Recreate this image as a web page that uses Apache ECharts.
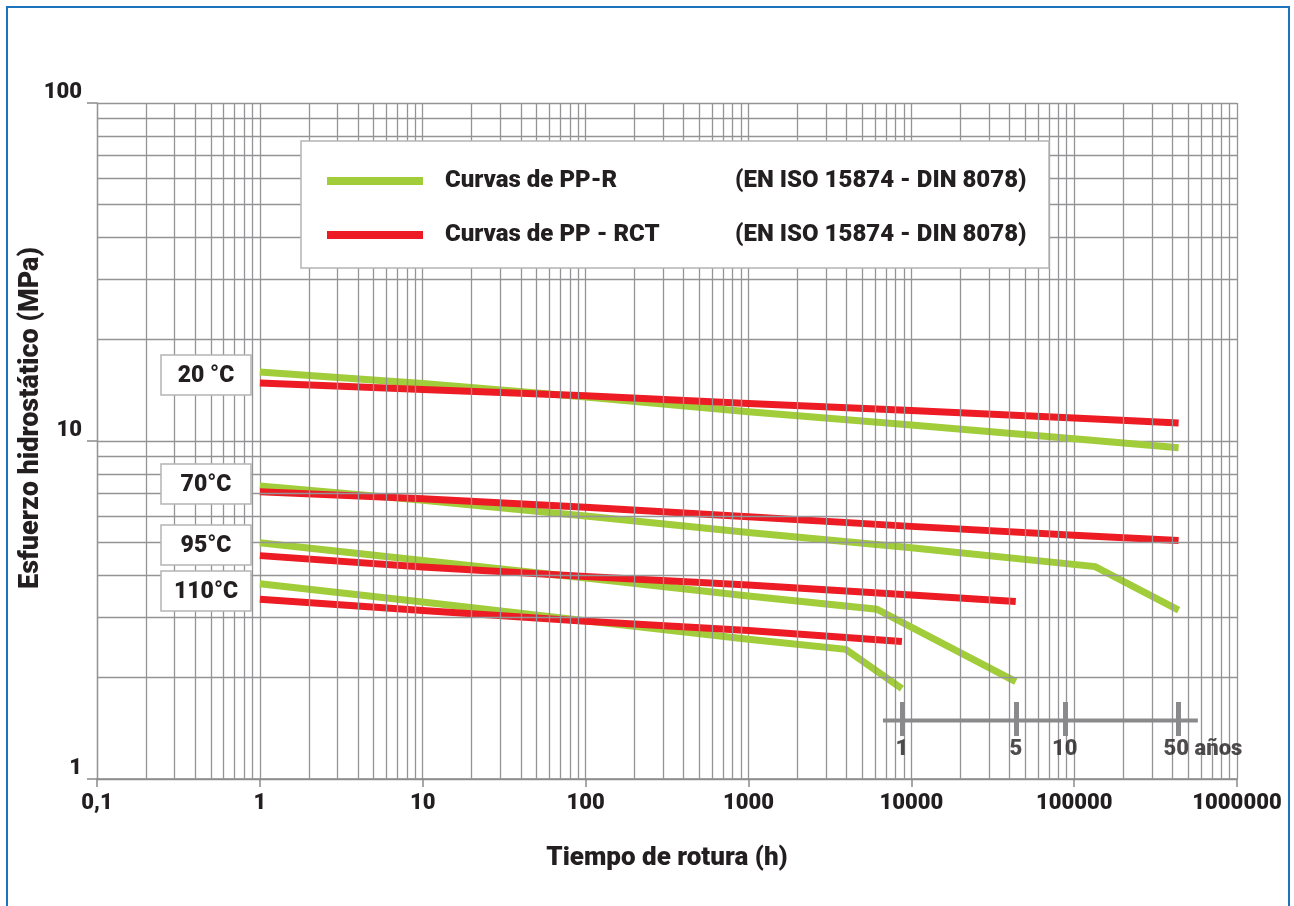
<!DOCTYPE html>
<html>
<head>
<meta charset="utf-8">
<script src="https://cdn.jsdelivr.net/npm/echarts@6/dist/echarts.min.js"></script>
<style>html,body{margin:0;padding:0;background:#fff;}#c{width:1294px;height:906px;}</style>
</head>
<body>
<div id="c"></div>
<script>
// ---- data (hours, MPa) ----
const xTickLabels = ['0,1', '1', '10', '100', '1000', '10000', '100000', '1000000'];
const yTickLabels = ['1', '10', '100'];
const tempLabels = ['20 °C', '70°C', '95°C', '110°C'];

const ppr20  = [[1, 16.0], [10, 14.8], [100, 13.5], [1000, 12.2], [10000, 11.15], [100000, 10.15], [438000, 9.55]];
const ppr70  = [[1, 7.36], [10, 6.68], [100, 6.0], [1000, 5.36], [10000, 4.83], [134600, 4.25], [438000, 3.16]];
const ppr95  = [[1, 5.0], [10, 4.43], [100, 3.93], [1000, 3.48], [6140, 3.18], [43800, 1.94]];
const ppr110 = [[1, 3.78], [10, 3.34], [100, 2.94], [1000, 2.59], [3960, 2.42], [8760, 1.85]];

const rct20  = [[1, 14.85], [10, 14.2], [100, 13.6], [1000, 12.9], [10000, 12.3], [100000, 11.7], [438000, 11.3]];
const rct70  = [[1, 7.08], [10, 6.75], [100, 6.37], [1000, 5.97], [10000, 5.59], [100000, 5.26], [438000, 5.08]];
const rct95  = [[1, 4.58], [10, 4.24], [100, 3.97], [1000, 3.75], [10000, 3.5], [43800, 3.35]];
const rct110 = [[1, 3.40], [10, 3.15], [100, 2.93], [1000, 2.75], [8760, 2.55]];

const yearMarks = [1, 5, 10, 50];
const yearLabels = ['1', '5', '10', '50 años'];
const HOURS_PER_YEAR = 8760;

const legendNames = ['Curvas de PP-R', 'Curvas de PP - RCT'];
const legendNorm = '(EN ISO 15874 - DIN 8078)';

// ---- styles ----
const GREEN = '#a2cd3a';
const RED = '#ed1c24';
const GRID = '#949496';
const AXIS = '#8a8a8c';
const TEXT = '#231f20';
const FONT = 'Roboto, sans-serif';
const W = 900;

// minor gridline values
const xMinor = [];
for (let e = -1; e <= 5; e++) for (let k = 2; k <= 9; k++) xMinor.push(+(k * Math.pow(10, e)).toPrecision(3));
const yMinor = [];
for (let e = 0; e <= 1; e++) for (let k = 2; k <= 9; k++) yMinor.push(k * Math.pow(10, e));

function curve(name, data, color, z) {
  return {
    type: 'line', name: name, data: data, symbol: 'none', z: z, silent: true,
    lineStyle: { color: color, width: 7, cap: 'butt', join: 'miter' }
  };
}

const series = [
  {
    type: 'line', data: [], symbol: 'none', silent: true, z: 1,
    markLine: {
      silent: true, symbol: 'none', animation: false,
      label: { show: false },
      lineStyle: { color: GRID, width: 1.3, type: 'solid' },
      data: xMinor.map(v => ({ xAxis: v })).concat(yMinor.map(v => ({ yAxis: v })))
    }
  },
  curve(legendNames[0] + ' 20', ppr20, GREEN, 3),
  curve(legendNames[0] + ' 70', ppr70, GREEN, 3),
  curve(legendNames[0] + ' 95', ppr95, GREEN, 3),
  curve(legendNames[0] + ' 110', ppr110, GREEN, 3),
  curve(legendNames[1] + ' 20', rct20, RED, 4),
  curve(legendNames[1] + ' 70', rct70, RED, 4),
  curve(legendNames[1] + ' 95', rct95, RED, 4),
  curve(legendNames[1] + ' 110', rct110, RED, 4),
  // years scale
  {
    type: 'line', data: [[6700, 1.49], [575000, 1.49]], symbol: 'none', silent: true, z: 5,
    lineStyle: { color: AXIS, width: 4, cap: 'butt' },
    markLine: {
      silent: true, symbol: 'none', animation: false, label: { show: false },
      lineStyle: { color: AXIS, width: 5, type: 'solid', cap: 'butt' },
      data: yearMarks.map(y => [{ coord: [y * HOURS_PER_YEAR, 1.69] }, { coord: [y * HOURS_PER_YEAR, 1.34] }])
    }
  },
  {
    type: 'scatter', symbolSize: 0, silent: true, z: 5,
    data: yearMarks.map((y, i) => ({
      value: [y * HOURS_PER_YEAR, 1.22],
      label: i === yearMarks.length - 1 ? { align: 'left', offset: [-15, 0] } : {}
    })),
    label: {
      show: true, position: 'inside', color: TEXT, fontFamily: FONT, fontWeight: W, fontSize: 22,
      formatter: p => yearLabels[p.dataIndex]
    }
  }
];

const graphic = [
  { type: 'rect', z: 200, silent: true, shape: { x: 7, y: 7, width: 1282, height: 920 },
    style: { fill: 'none', stroke: '#1c75bc', lineWidth: 2 } },
  { type: 'rect', z: 100, silent: true, shape: { x: 301, y: 141, width: 748, height: 127 },
    style: { fill: '#fff', stroke: '#b4b4b4', lineWidth: 1.5 } },
  { type: 'line', z: 101, silent: true, shape: { x1: 327, y1: 181, x2: 423, y2: 181 },
    style: { stroke: GREEN, lineWidth: 8 } },
  { type: 'line', z: 101, silent: true, shape: { x1: 327, y1: 235, x2: 423, y2: 235 },
    style: { stroke: RED, lineWidth: 8 } },
  { type: 'text', z: 101, silent: true, x: 445, y: 181,
    style: { text: legendNames[0], fill: TEXT, font: W + ' 24px ' + FONT, verticalAlign: 'middle' } },
  { type: 'text', z: 101, silent: true, x: 445, y: 235,
    style: { text: legendNames[1], fill: TEXT, font: W + ' 24px ' + FONT, verticalAlign: 'middle' } },
  { type: 'text', z: 101, silent: true, x: 735, y: 181,
    style: { text: legendNorm, fill: TEXT, font: W + ' 24px ' + FONT, verticalAlign: 'middle' } },
  { type: 'text', z: 101, silent: true, x: 735, y: 235,
    style: { text: legendNorm, fill: TEXT, font: W + ' 24px ' + FONT, verticalAlign: 'middle' } }
];
const boxTops = [355, 464, 525, 571];
tempLabels.forEach((t, i) => {
  graphic.push({ type: 'rect', z: 100, silent: true, shape: { x: 161, y: boxTops[i], width: 90, height: 40 },
    style: { fill: '#fff', stroke: '#b4b4b4', lineWidth: 1.5 } });
  graphic.push({ type: 'text', z: 101, silent: true, x: 206, y: boxTops[i] + 21,
    style: { text: t, fill: TEXT, font: W + ' 23px ' + FONT, align: 'center', verticalAlign: 'middle' } });
});

const chart = echarts.init(document.getElementById('c'), null, { renderer: 'canvas' });
chart.setOption({
  animation: false,
  backgroundColor: '#fff',
  grid: { left: 97, right: 57, top: 103, bottom: 127, containLabel: false },
  xAxis: {
    type: 'log', logBase: 10, min: 0.1, max: 1000000, splitNumber: 7,
    name: 'Tiempo de rotura (h)', nameLocation: 'middle', nameGap: 66, nameMoveOverlap: false,
    nameTextStyle: { color: TEXT, fontFamily: FONT, fontWeight: W, fontSize: 26 },
    axisLine: { show: true, lineStyle: { color: AXIS, width: 1.5 } },
    axisTick: { show: true, length: 8, lineStyle: { color: AXIS, width: 1.5 } },
    axisLabel: { color: TEXT, fontFamily: FONT, fontWeight: W, fontSize: 22, margin: 13,
      showMinLabel: true, showMaxLabel: true,
      formatter: v => xTickLabels[Math.round(Math.log10(v)) + 1] },
    splitLine: { show: true, lineStyle: { color: GRID, width: 1.3 } },
    minorTick: { show: false }, minorSplitLine: { show: false }
  },
  yAxis: {
    type: 'log', logBase: 10, min: 1, max: 100, splitNumber: 2,
    name: 'Esfuerzo hidrostático (MPa)', nameLocation: 'middle', nameGap: 52, nameMoveOverlap: false,
    nameTextStyle: { color: TEXT, fontFamily: FONT, fontWeight: W, fontSize: 27, padding: [0, 0, 0, 46] },
    axisLine: { show: true, lineStyle: { color: GRID, width: 1.3 } },
    axisTick: { show: true, length: 10, lineStyle: { color: AXIS, width: 1.5 } },
    axisLabel: { color: TEXT, fontFamily: FONT, fontWeight: W, fontSize: 22, margin: 15,
      verticalAlign: 'bottom', showMinLabel: true, showMaxLabel: true,
      formatter: v => yTickLabels[Math.round(Math.log10(v))] },
    splitLine: { show: true, lineStyle: { color: GRID, width: 1.3 } },
    minorTick: { show: false }, minorSplitLine: { show: false }
  },
  series: series,
  graphic: graphic
});
</script>
</body>
</html>
